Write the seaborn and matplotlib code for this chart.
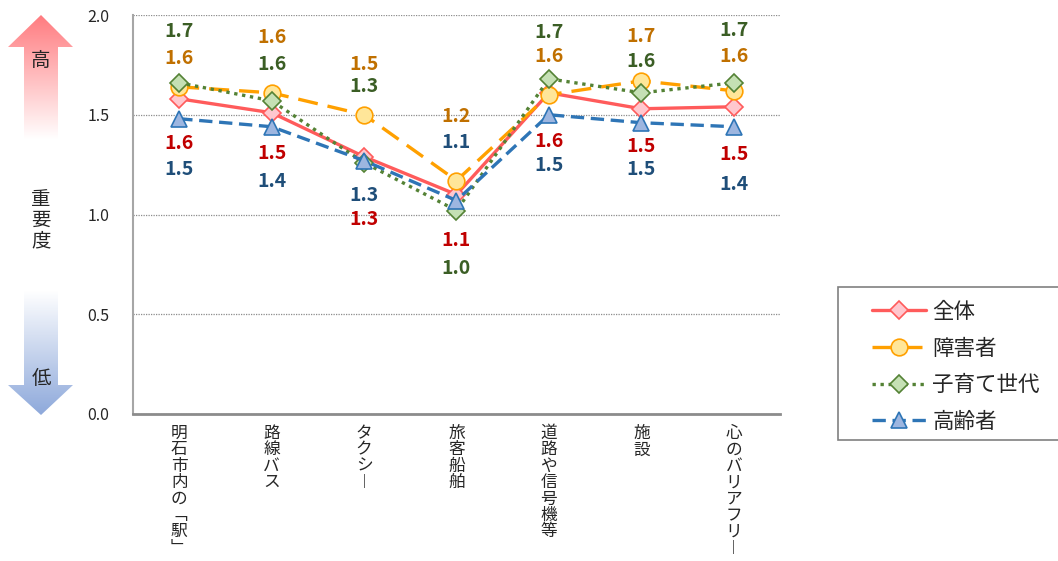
import matplotlib
matplotlib.use('Agg')
import matplotlib.pyplot as plt
import numpy as np
import pandas as pd
import seaborn as sns
from matplotlib.patches import Polygon, Rectangle

categories = ['明石市内の「駅」', '路線バス', 'タクシー', '旅客船舶', '道路や信号機等', '施設', '心のバリアフリー']
series_names = ['全体', '障害者', '子育て世代', '高齢者']
zentai = [1.58, 1.51, 1.29, 1.10, 1.61, 1.53, 1.54]
shougaisha = [1.64, 1.61, 1.50, 1.17, 1.60, 1.67, 1.62]
kosodate = [1.66, 1.57, 1.26, 1.02, 1.68, 1.61, 1.66]
koureisha = [1.48, 1.44, 1.27, 1.07, 1.50, 1.46, 1.44]
y_ticks = [0.0, 0.5, 1.0, 1.5, 2.0]

# label offsets in pixels (positive = above the marker)
label_offsets = {
    '全体': [-45, -41, -63, -46, -49, -38, -48],
    '障害者': [28, 55, 50, 64, 38, 44, 34],
    '子育て世代': [51, 36, 76, -58, 46, 31, 52],
    '高齢者': [-51, -55, -35, 58, -51, -47, -58],
}

styles = {
    '全体': dict(color='#FF5B5B', linestyle='-', marker='D', markersize=9,
                 markerfacecolor='#FFC7CE', markeredgecolor='#FF5B5B', label_color='#C00000'),
    '障害者': dict(color='#FFA000', linestyle=(0, (6, 3)), marker='o', markersize=12,
                   markerfacecolor='#FFE699', markeredgecolor='#FFA000', label_color='#C07000'),
    '子育て世代': dict(color='#548235', linestyle=(0, (1, 1.4)), marker='D', markersize=9.5,
                     markerfacecolor='#C5E0B4', markeredgecolor='#548235', label_color='#3B5E25'),
    '高齢者': dict(color='#2E75B6', linestyle=(0, (4, 2)), marker='^', markersize=12,
                   markerfacecolor='#9DB6E0', markeredgecolor='#2E75B6', label_color='#1F4E79'),
}

df = pd.DataFrame({'x': range(len(categories)), '全体': zentai, '障害者': shougaisha,
                   '子育て世代': kosodate, '高齢者': koureisha})
long_df = df.melt(id_vars='x', var_name='series', value_name='value')

sns.set_style('white')
plt.rcParams['font.family'] = ['Noto Sans CJK JP', 'DejaVu Sans']

fig = plt.figure(figsize=(10.58, 5.61), dpi=100)

# decorative gradient arrows and legend frame (pixel coordinates)
deco = fig.add_axes([0, 0, 1, 1], zorder=0)
deco.axis('off')

up = Polygon([(41, 15), (8, 47), (24, 47), (24, 140), (58, 140), (58, 47), (73, 47)],
             closed=True, facecolor='none', edgecolor='none')
deco.add_patch(up)
grad = np.linspace(0, 1, 100).reshape(-1, 1)
im = deco.imshow(grad, cmap=matplotlib.colors.LinearSegmentedColormap.from_list('r', ['#FF7C80', '#FFFFFF']),
                 extent=[8, 73, 140, 15], aspect='auto', origin='upper')
im.set_clip_path(up)

down = Polygon([(24, 290), (58, 290), (58, 385), (73, 385), (41, 415), (8, 385), (24, 385)],
               closed=True, facecolor='none', edgecolor='none')
deco.add_patch(down)
im2 = deco.imshow(grad, cmap=matplotlib.colors.LinearSegmentedColormap.from_list('b', ['#FFFFFF', '#8EA9DB']),
                  extent=[8, 73, 415, 290], aspect='auto', origin='upper')
im2.set_clip_path(down)

deco.add_patch(Rectangle((838, 287), 240, 153, facecolor='white', edgecolor='#808080', linewidth=1.2))
deco.set_xlim(0, 1058)
deco.set_ylim(561, 0)

deco.text(41, 60, '高', fontsize=14, ha='center', va='center')
deco.text(41, 378, '低', fontsize=14, ha='center', va='center')
deco.text(41, 220, '重\n要\n度', fontsize=14, ha='center', va='center', linespacing=1.0)

ax = fig.add_axes([133 / 1058, 1 - 414 / 561, (780 - 133) / 1058, (414 - 15) / 561], zorder=1)
ax.patch.set_alpha(0)

for name in series_names:
    st = styles[name]
    sub = long_df[long_df['series'] == name]
    sns.lineplot(data=sub, x='x', y='value', ax=ax, color=st['color'], linestyle=st['linestyle'],
                 linewidth=2.4, marker=st['marker'], markersize=st['markersize'],
                 markerfacecolor=st['markerfacecolor'], markeredgecolor=st['markeredgecolor'],
                 markeredgewidth=1.2, label=name)
    for x, v, off in zip(sub['x'], sub['value'], label_offsets[name]):
        ax.annotate(f'{v:.1f}', (x, v), xytext=(0, off), textcoords='offset pixels',
                    ha='center', va='center', fontsize=14, fontweight='bold', color=st['label_color'])

ax.set_xlim(-0.5, len(categories) - 0.5)
ax.set_ylim(0, 2.0)
ax.set_yticks(y_ticks)
ax.set_yticklabels([f'{t:.1f}' for t in y_ticks], fontsize=11.5)
ax.tick_params(axis='y', length=0, pad=17)
ax.yaxis.grid(True, linestyle=(0, (1, 1)), color='#8C8C8C', linewidth=0.9)
ax.set_axisbelow(True)

vertical = {'ー': '︱', '「': '﹁', '」': '﹂'}
ax.set_xticks(np.arange(len(categories) - 1) + 0.5)
ax.set_xticklabels([])
ax.tick_params(axis='x', which='major', length=4, color='#A0A0A0')
ax.set_xticks(range(len(categories)), minor=True)
ax.set_xticklabels(['\n'.join(vertical.get(c, c) for c in cat) for cat in categories],
                   minor=True, fontsize=12, va='top', linespacing=0.95)
ax.tick_params(axis='x', which='minor', length=0, pad=8)
ax.set_xlabel('')
ax.set_ylabel('')

for s in ['top', 'right']:
    ax.spines[s].set_visible(False)
ax.spines['left'].set_color('#A6A6A6')
ax.spines['left'].set_linewidth(1.5)
ax.spines['bottom'].set_color('#8C8C8C')
ax.spines['bottom'].set_linewidth(2)

handles, labels = ax.get_legend_handles_labels()
ax.get_legend().remove()
fig.legend(handles, labels, loc='upper left', bbox_to_anchor=(872 / 1058, 1 - 301 / 561),
           fontsize=15.5, frameon=False, handlelength=2.5, labelspacing=0.68,
           borderpad=0, handletextpad=0.3, borderaxespad=0)

fig.savefig('out.png', dpi=100)
